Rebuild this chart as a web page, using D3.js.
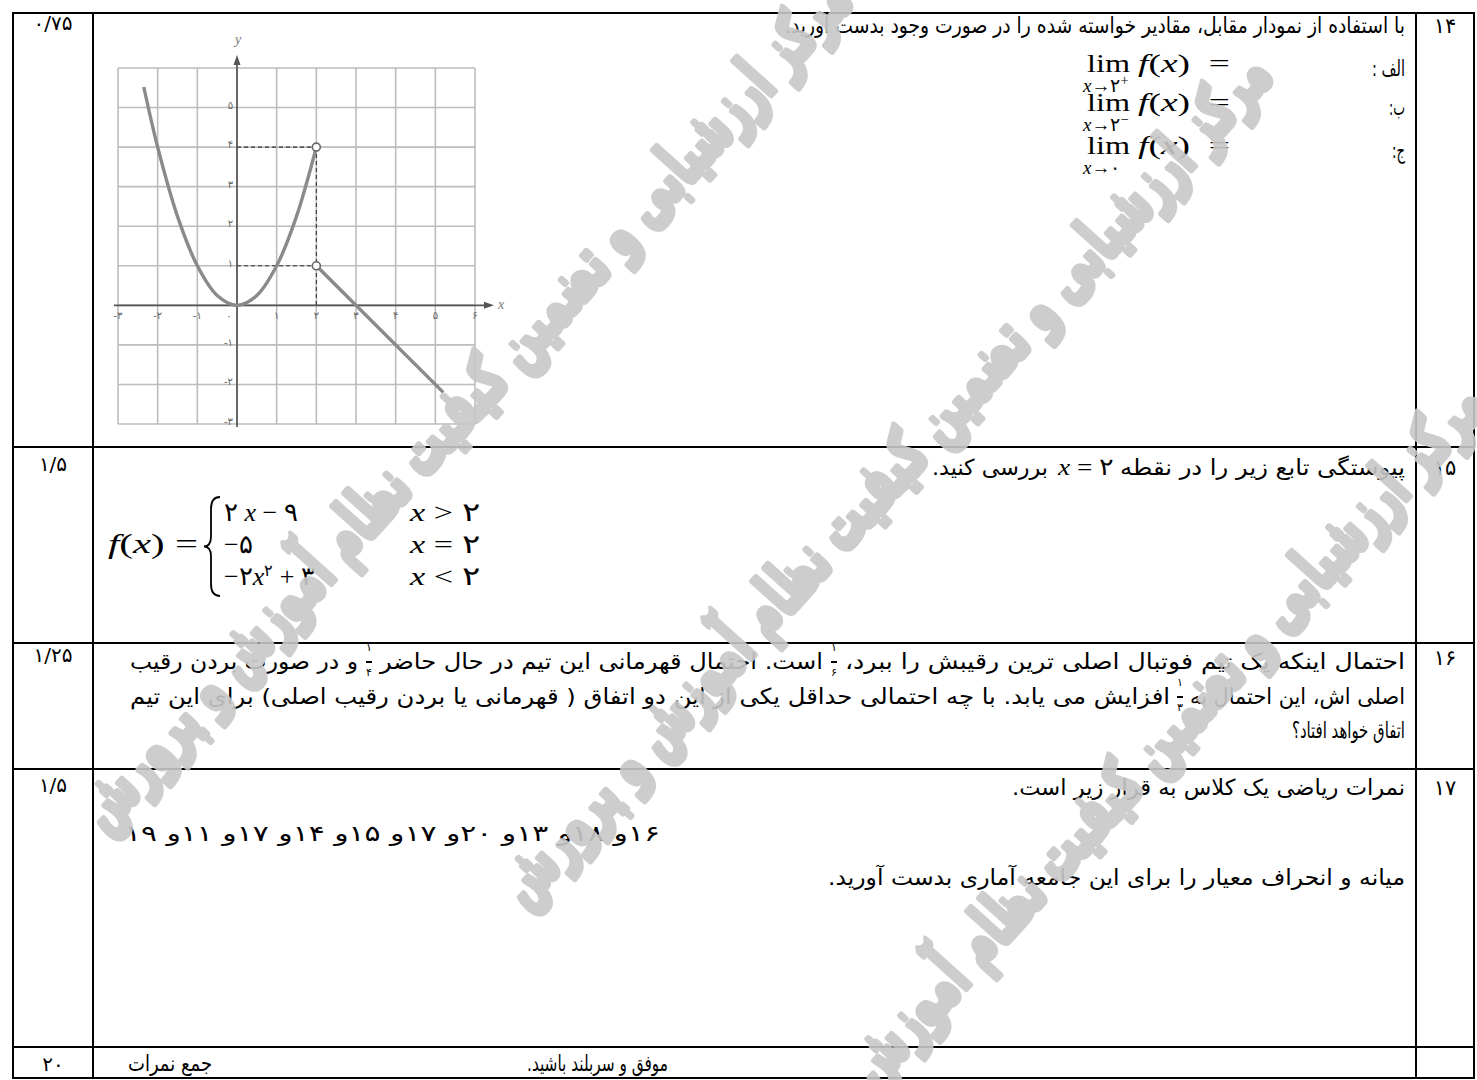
<!DOCTYPE html>
<html><head><meta charset="utf-8">
<script src="https://cdn.jsdelivr.net/npm/d3@7"></script>
<style>
html,body{margin:0;padding:0;background:#fff;}
svg{display:block;}
text{white-space:pre;}
</style></head><body>
<svg id="c" width="1477" height="1080"></svg>
<script>
// ---------------- DATA ----------------
const questionNumbers = ["۱۴", "۱۵", "۱۶", "۱۷"];
const questionScores = ["۰/۷۵", "۱/۵", "۱/۲۵", "۱/۵"];
const totalScore = "۲۰";
const totalLabel = "جمع نمرات";
const closingText = "موفق و سربلند باشید.";

const q14Text = "با استفاده از نمودار مقابل، مقادیر خواسته شده را در صورت وجود بدست آورید.";
const limLabels = ["الف :", "ب:", "ج:"];
const limTargets = ["۲", "۲", "۰"];
const limSides = ["+", "−", ""];

const q15Before = "پیوستگی تابع زیر را در نقطه";
const q15After = "بررسی کنید.";
const pieceExprs = [
  [{t:"۲ "},{t:"x",i:1},{t:" − ۹"}],
  [{t:"−۵"}],
  [{t:"−۲"},{t:"x",i:1},{t:"۲",s:0.6,dy:-9},{t:" + ۳",dy:0}]
];
const pieceOps = [">", "=", "<"];

const q16Line1 = ["احتمال اینکه یک تیم فوتبال اصلی ترین رقیبش را ببرد،", "است. احتمال قهرمانی این تیم در حال حاضر", "و در صورت بردن رقیب"];
const q16Fracs1 = [["۱","۶"], ["۱","۴"]];
const q16Line2 = ["اصلی اش، این احتمال به", "افزایش می یابد. با چه احتمالی حداقل یکی از این دو اتفاق ( قهرمانی یا بردن رقیب اصلی) برای این تیم"];
const q16Fracs2 = [["۱","۳"]];
const q16Line3 = "اتفاق خواهد افتاد؟";

const q17Line1 = "نمرات ریاضی یک کلاس به قرار زیر است.";
const gradeList = ["۱۶","۱۸","۱۳","۲۰","۱۷","۱۵","۱۴","۱۷","۱۱","۱۹"];
const q17Line3 = "میانه و انحراف معیار را برای این جامعه آماری بدست آورید.";

// graph
const gridValues = [-3,-2,-1,0,1,2,3,4,5,6];
const xTickValues = [-3,-2,-1,0,1,2,3,4,5,6];
const yTickValues = [-3,-2,-1,1,2,3,4,5];
const parabolaPoints = [[-2.35,5.52],[-2,4],[-1.5,2.25],[-1,1],[-0.5,0.25],[0,0],[0.5,0.25],[1,1],[1.5,2.25],[2,4]];
const linePoints = [[2,1],[5.2,-2.2]];
const openPoints = [[2,4],[2,1]];
const guideSegments = [[[0,4],[2,4]],[[0,1],[2,1]],[[2,4],[2,0]]];

const watermarkText = "مرکز ارزشیابی و تضمین کیفیت نظام آموزش و پرورش";

// ---------------- HELPERS ----------------
const FA = '"DejaVu Sans", sans-serif';
const MATH = '"Liberation Serif", "DejaVu Serif", serif';
const faNum = n => String(n).replace(/\d/g, d => "۰۱۲۳۴۵۶۷۸۹"[d]);

const svg = d3.select("#c");
const gTable = svg.append("g");
const gGraph = svg.append("g");
const gText = svg.append("g");
const gWm = svg.append("g").attr("opacity", 0.9);

function faSpan(str, x0, x1, y, size = 22) {
  return gText.append("text")
    .attr("x", (x0 + x1) / 2).attr("y", y)
    .attr("text-anchor", "middle")
    .style("direction", "rtl").style("unicode-bidi", "embed")
    .style("font-family", FA).style("font-size", size + "px")
    .attr("fill", "#000")
    .attr("textLength", x1 - x0).attr("lengthAdjust", "spacingAndGlyphs")
    .text(str);
}
function centerText(str, x, y, size = 20) {
  return gText.append("text").attr("x", x).attr("y", y)
    .attr("text-anchor", "middle")
    .style("font-family", FA).style("font-size", size + "px")
    .attr("fill", "#000").text(str);
}
function mathText(x, y, size, tokens, w) {
  const t = gText.append("text").attr("x", x).attr("y", y)
    .attr("text-anchor", "start")
    .style("font-family", MATH).style("font-size", size + "px").attr("fill", "#000");
  if (w) t.attr("textLength", w).attr("lengthAdjust", "spacingAndGlyphs");
  let cur = 0;
  tokens.forEach(tok => {
    const s = t.append("tspan").text(tok.t);
    if (tok.i) s.style("font-style", "italic");
    if (tok.s) s.style("font-size", (size * tok.s) + "px");
    const target = tok.dy || 0;
    if (target !== cur) { s.attr("dy", target - cur); cur = target; }
  });
  return t;
}
function frac(x, yBase, num, den) {
  gText.append("text").attr("x", x).attr("y", yBase - 18).attr("text-anchor", "middle")
    .style("font-family", FA).style("font-size", "11px").text(num);
  gText.append("line").attr("x1", x - 3).attr("x2", x + 3)
    .attr("y1", yBase - 7).attr("y2", yBase - 7).attr("stroke", "#000").attr("stroke-width", 2);
  gText.append("text").attr("x", x).attr("y", yBase + 7).attr("text-anchor", "middle")
    .style("font-family", FA).style("font-size", "11px").text(den);
}

// ---------------- TABLE ----------------
const rowLines = [13, 447, 643, 769, 1047, 1078];
const colLines = [13, 93, 1416, 1474];
rowLines.forEach(y => gTable.append("line").attr("x1", 12).attr("x2", 1475)
  .attr("y1", y).attr("y2", y).attr("stroke", "#000").attr("stroke-width", 2));
colLines.forEach(x => gTable.append("line").attr("x1", x).attr("x2", x)
  .attr("y1", 12).attr("y2", 1079).attr("stroke", "#000").attr("stroke-width", 2));

const scoreBase = [30, 471, 662, 792];
const numBase = [33, 475, 665, 795];
questionScores.forEach((s, i) => centerText(s, 53, scoreBase[i], 20));
questionNumbers.forEach((s, i) => centerText(s, 1445, numBase[i], 21));
centerText(totalScore, 53, 1071, 20);
faSpan(totalLabel, 128, 212, 1071);
faSpan(closingText, 527, 668, 1071);

// ---------------- Q14 ----------------
faSpan(q14Text, 785, 1405, 33);
const limY = [72, 111, 154];
const labelSpans = [[1372, 1405], [1389, 1405], [1392, 1405]];
limLabels.forEach((l, i) => faSpan(l, labelSpans[i][0], labelSpans[i][1], limY[i] + 4));
limTargets.forEach((tg, i) => {
  mathText(1087, limY[i], 26, [{t: "lim"}], 43);
  mathText(1138, limY[i], 26, [{t: "f", i: 1}, {t: "("}, {t: "x", i: 1}, {t: ")"}, {t: "  ="}], 92);
  const sub = [{t: "x", i: 1}, {t: "→"}, {t: tg}];
  if (limSides[i]) sub.push({t: limSides[i], s: 0.75, dy: -7});
  mathText(1083, limY[i] + 20, 19, sub);
});

// ---------------- Q15 ----------------
faSpan(q15Before, 1120, 1405, 475);
mathText(1058, 475, 24, [{t: "x", i: 1}, {t: " = ۲"}], 56);
faSpan(q15After, 932, 1048, 475);
const pieceY = [521, 553, 585];
mathText(108, 553, 28, [{t: "f", i: 1}, {t: "("}, {t: "x", i: 1}, {t: ")"}, {t: " ="}], 90);
(function () {
  const xr = 220, xm = 211, xl = 204, yt = 497, yb = 596, ym = (yt + yb) / 2;
  gText.append("path")
    .attr("d", `M${xr},${yt} Q${xm},${yt} ${xm},${yt + 12} L${xm},${ym - 10} Q${xm},${ym} ${xl},${ym} Q${xm},${ym} ${xm},${ym + 10} L${xm},${yb - 12} Q${xm},${yb} ${xr},${yb}`)
    .attr("fill", "none").attr("stroke", "#000").attr("stroke-width", 1.8);
})();
pieceExprs.forEach((toks, i) => mathText(224, pieceY[i], 26, toks));
pieceOps.forEach((op, i) => mathText(410, pieceY[i], 26, [{t: "x", i: 1}, {t: " " + op + " ۲"}], 70));

// ---------------- Q16 ----------------
const l1 = 669, l2 = 704, l3 = 738;
faSpan(q16Line1[0], 845, 1405, l1);
frac(834, l1, q16Fracs1[0][0], q16Fracs1[0][1]);
faSpan(q16Line1[1], 380, 823, l1);
frac(369, l1, q16Fracs1[1][0], q16Fracs1[1][1]);
faSpan(q16Line1[2], 130, 358, l1);
faSpan(q16Line2[0], 1190, 1405, l2);
frac(1180, l2, q16Fracs2[0][0], q16Fracs2[0][1]);
faSpan(q16Line2[1], 130, 1170, l2);
faSpan(q16Line3, 1292, 1405, l3);

// ---------------- Q17 ----------------
faSpan(q17Line1, 1012, 1405, 795);
const gradeStr = gradeList.map((g, i) => i < gradeList.length - 1 ? g + "و" : g).join(" ");
faSpan(gradeStr, 125, 660, 841);
faSpan(q17Line3, 828, 1405, 885);

// ---------------- GRAPH ----------------
const gx = d3.scaleLinear().domain([-3, 6]).range([118, 475]);
const gy = d3.scaleLinear().domain([-3, 6]).range([424, 68]);
gGraph.selectAll(".vg").data(gridValues).join("line")
  .attr("x1", d => gx(d)).attr("x2", d => gx(d)).attr("y1", gy(6)).attr("y2", gy(-3))
  .attr("stroke", "#bdbdbd").attr("stroke-width", 1.6);
gGraph.selectAll(".hg").data(gridValues).join("line")
  .attr("y1", d => gy(d)).attr("y2", d => gy(d)).attr("x1", gx(-3)).attr("x2", gx(6))
  .attr("stroke", "#bdbdbd").attr("stroke-width", 1.6);
gGraph.append("line").attr("x1", gx(-3) - 4).attr("x2", 488).attr("y1", gy(0)).attr("y2", gy(0))
  .attr("stroke", "#555").attr("stroke-width", 1.7);
gGraph.append("line").attr("x1", gx(0)).attr("x2", gx(0)).attr("y1", gy(-3) + 3).attr("y2", 60)
  .attr("stroke", "#555").attr("stroke-width", 1.7);
gGraph.append("path").attr("d", `M${494},${gy(0)} L${484},${gy(0) - 3.5} L${484},${gy(0) + 3.5} Z`).attr("fill", "#555");
gGraph.append("path").attr("d", `M${gx(0)},${55} L${gx(0) - 3.5},${65} L${gx(0) + 3.5},${65} Z`).attr("fill", "#555");
gGraph.append("text").attr("x", gx(0) + 1).attr("y", 44).attr("text-anchor", "middle")
  .style("font-family", MATH).style("font-style", "italic").style("font-size", "14px").attr("fill", "#777").text("y");
gGraph.append("text").attr("x", 501).attr("y", gy(0) + 4).attr("text-anchor", "middle")
  .style("font-family", MATH).style("font-style", "italic").style("font-size", "14px").attr("fill", "#777").text("x");
gGraph.selectAll(".xt").data(xTickValues).join("text")
  .attr("x", d => d === 0 ? gx(0) - 8 : gx(d)).attr("y", gy(0) + 14)
  .attr("text-anchor", "middle").style("font-family", FA).style("font-size", "10px").attr("fill", "#666")
  .text(d => (d < 0 ? "-" : "") + faNum(Math.abs(d)));
gGraph.selectAll(".yt").data(yTickValues).join("text")
  .attr("x", gx(0) - 4).attr("y", d => gy(d) + 1)
  .attr("text-anchor", "end").style("font-family", FA).style("font-size", "10px").attr("fill", "#666")
  .text(d => (d < 0 ? "-" : "") + faNum(Math.abs(d)));
gGraph.selectAll(".gd").data(guideSegments).join("line")
  .attr("x1", d => gx(d[0][0])).attr("y1", d => gy(d[0][1]))
  .attr("x2", d => gx(d[1][0])).attr("y2", d => gy(d[1][1]))
  .attr("stroke", "#333").attr("stroke-width", 1.1).attr("stroke-dasharray", "4,3");
const lineGen = d3.line().x(d => gx(d[0])).y(d => gy(d[1]));
gGraph.append("path").attr("d", lineGen.curve(d3.curveCatmullRom)(parabolaPoints))
  .attr("fill", "none").attr("stroke", "#8a8a8a").attr("stroke-width", 3.4);
gGraph.append("path").attr("d", d3.line().x(d => gx(d[0])).y(d => gy(d[1]))(linePoints))
  .attr("fill", "none").attr("stroke", "#8a8a8a").attr("stroke-width", 3.4);
gGraph.selectAll(".op").data(openPoints).join("circle")
  .attr("cx", d => gx(d[0])).attr("cy", d => gy(d[1])).attr("r", 4)
  .attr("fill", "#fff").attr("stroke", "#666").attr("stroke-width", 1.6);

// ---------------- WATERMARK ----------------
const wmCenters = [[465, 405], [885, 480], [1100, 810]];
gWm.selectAll("text").data(wmCenters).join("text")
  .attr("transform", d => `translate(${d[0]},${d[1]}) rotate(-48)`)
  .attr("text-anchor", "middle").attr("dy", "0.3em")
  .style("direction", "rtl").style("unicode-bidi", "embed")
  .style("font-family", FA).style("font-weight", "bold").style("font-size", "66px")
  .attr("fill", "#c8c8c8").attr("stroke", "#c8c8c8").attr("stroke-width", 7).attr("stroke-linejoin", "round")
  .attr("textLength", 1120).attr("lengthAdjust", "spacingAndGlyphs")
  .text(watermarkText);
</script>
</body></html>
